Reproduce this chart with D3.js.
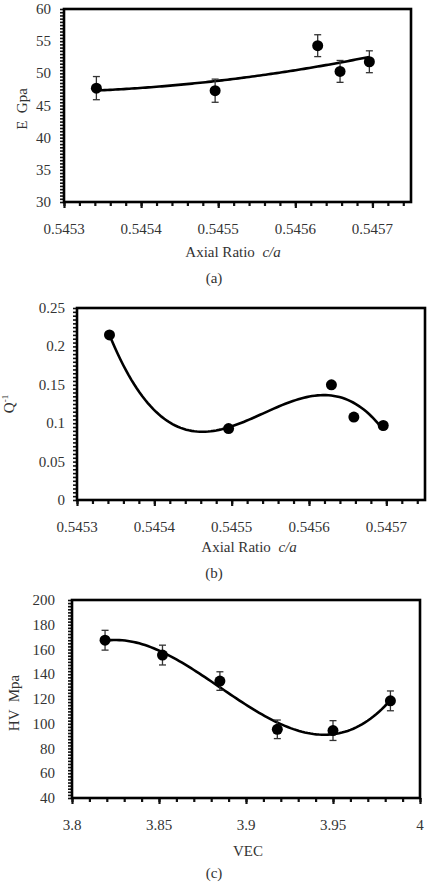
<!DOCTYPE html>
<html>
<head>
<meta charset="utf-8">
<script src="https://cdn.jsdelivr.net/npm/d3@7"></script>
<style>
  body { margin: 0; background: #fff; }
</style>
</head>
<body>
<svg id="fig" width="432" height="882" font-family="'Liberation Serif', 'DejaVu Serif', serif"></svg>
<script>
/* values */
const axialRatio = [0.545342, 0.545496, 0.545629, 0.545658, 0.545696];
const modulusE   = [47.7, 47.3, 54.3, 50.3, 51.8];
const modulusErr = [1.8, 1.8, 1.7, 1.7, 1.7];
const damping    = [0.215, 0.093, 0.150, 0.108, 0.097];
const vec        = [3.819, 3.852, 3.885, 3.918, 3.950, 3.983];
const hardness   = [167.5, 155.5, 134.5, 95.5, 94.5, 118.5];
const hardErr    = [8, 8, 7.5, 7.5, 8, 8];

const ratioTicks = [0.5453, 0.5454, 0.5455, 0.5456, 0.5457];
const eTicks     = [30, 35, 40, 45, 50, 55, 60];
const qTicks     = [0, 0.05, 0.1, 0.15, 0.2, 0.25];
const vecTicks   = [3.8, 3.85, 3.9, 3.95, 4];
const hvTicks    = [40, 60, 80, 100, 120, 140, 160, 180, 200];

const svg = d3.select("#fig");
const textColor = "#333";

/* least squares polynomial fit, x centred to keep it well conditioned */
function polyFit(xs, ys, order) {
	const mx = d3.mean(xs), sx = d3.deviation(xs);
	const t = xs.map(x => (x - mx) / sx);
	const n = order + 1;
	const A = [];
	for (let i = 0; i < n; i++) {
		const row = [];
		for (let j = 0; j < n; j++) row.push(d3.sum(t, v => Math.pow(v, i + j)));
		row.push(d3.sum(t, (v, k) => ys[k] * Math.pow(v, i)));
		A.push(row);
	}
	for (let i = 0; i < n; i++) {
		let p = i;
		for (let r = i + 1; r < n; r++) if (Math.abs(A[r][i]) > Math.abs(A[p][i])) p = r;
		[A[i], A[p]] = [A[p], A[i]];
		for (let r = 0; r < n; r++) {
			if (r === i) continue;
			const f = A[r][i] / A[i][i];
			for (let c = i; c <= n; c++) A[r][c] -= f * A[i][c];
		}
	}
	const coef = A.map((row, i) => row[n] / row[i]);
	return x => {
		const v = (x - mx) / sx;
		return d3.sum(coef, (c, i) => c * Math.pow(v, i));
	};
}

function drawPanel(p) {
	const g = svg.append("g");
	const x = d3.scaleLinear().domain(p.xDomain).range([p.left, p.right]);
	const y = d3.scaleLinear().domain(p.yDomain).range([p.bottom, p.top]);

	// y ticks (minor + major, all the same size)
	g.append("g")
		.attr("transform", `translate(${p.left},0)`)
		.call(d3.axisLeft(y).tickValues(p.yMinor).tickSize(4).tickFormat(""))
		.call(a => a.select(".domain").remove())
		.selectAll("line").attr("stroke", "#111").attr("stroke-width", 1.6);

	g.selectAll(".ylab").data(p.yTicks).join("text")
		.attr("x", p.left - p.yLabGap)
		.attr("y", d => y(d) + 5)
		.attr("text-anchor", "end")
		.attr("font-size", "15px")
		.attr("fill", textColor)
		.text(p.yFormat);

	// x ticks
	g.append("g")
		.attr("transform", `translate(0,${p.bottom})`)
		.call(d3.axisBottom(x).tickValues(p.xMinor).tickSize(4).tickFormat(""))
		.call(a => a.select(".domain").remove())
		.selectAll("line").attr("stroke", "#111").attr("stroke-width", 2.2);
	g.append("g")
		.attr("transform", `translate(0,${p.bottom})`)
		.call(d3.axisBottom(x).tickValues(p.xTicks).tickSize(6).tickFormat(""))
		.call(a => a.select(".domain").remove())
		.selectAll("line").attr("stroke", "#111").attr("stroke-width", 2.2);

	g.selectAll(".xlab").data(p.xTicks).join("text")
		.attr("x", d => x(d))
		.attr("y", p.bottom + 32)
		.attr("text-anchor", "middle")
		.attr("font-size", "15px")
		.attr("fill", textColor)
		.text(p.xFormat);

	// frame
	g.append("rect")
		.attr("x", p.left).attr("y", p.top)
		.attr("width", p.right - p.left).attr("height", p.bottom - p.top)
		.attr("fill", "none").attr("stroke", "#000").attr("stroke-width", 2.6);

	// trend line
	const fit = polyFit(p.xs, p.ys, p.order);
	const xsFit = d3.range(0, 101).map(i => p.xs[0] + (p.xs[p.xs.length - 1] - p.xs[0]) * i / 100);
	g.append("path")
		.datum(xsFit)
		.attr("fill", "none")
		.attr("stroke", "#000")
		.attr("stroke-width", 2.6)
		.attr("d", d3.line().x(d => x(d)).y(d => y(fit(d))));

	// error bars
	if (p.err) {
		const eb = g.selectAll(".err").data(p.xs).join("g");
		eb.append("line")
			.attr("x1", d => x(d)).attr("x2", d => x(d))
			.attr("y1", (d, i) => y(p.ys[i] - p.err[i]))
			.attr("y2", (d, i) => y(p.ys[i] + p.err[i]))
			.attr("stroke", "#333").attr("stroke-width", 1.3);
		[-1, 1].forEach(s => {
			eb.append("line")
				.attr("x1", d => x(d) - 3.5).attr("x2", d => x(d) + 3.5)
				.attr("y1", (d, i) => y(p.ys[i] + s * p.err[i]))
				.attr("y2", (d, i) => y(p.ys[i] + s * p.err[i]))
				.attr("stroke", "#333").attr("stroke-width", 1.3);
		});
	}

	// markers
	g.selectAll(".pt").data(p.xs).join("circle")
		.attr("cx", d => x(d))
		.attr("cy", (d, i) => y(p.ys[i]))
		.attr("r", 5.5)
		.attr("fill", "#000");

	// y title
	const yt = g.append("text")
		.attr("transform", `translate(${p.yTitleX},${p.yTitleY}) rotate(-90)`)
		.attr("text-anchor", "middle")
		.attr("font-size", "15px")
		.attr("fill", textColor)
		.style("white-space", "pre");
	p.yTitle(yt);

	// x title
	const xt = g.append("text")
		.attr("x", p.xTitleX).attr("y", p.xTitleY)
		.attr("text-anchor", "middle")
		.attr("font-size", "15px")
		.attr("fill", textColor)
		.style("white-space", "pre");
	p.xTitle(xt);

	// caption
	g.append("text")
		.attr("x", 214).attr("y", p.capY)
		.attr("text-anchor", "middle")
		.attr("font-size", "15px")
		.attr("fill", textColor)
		.text(p.caption);
}

function axialTitle(t) {
	t.append("tspan").text("Axial Ratio  ");
	t.append("tspan").attr("font-style", "italic").text("c/a");
}

const ratioMinor = d3.range(0, 23).map(i => 0.5453 + i * 0.00002);
const fmtRatio = d => d.toFixed(4);

drawPanel({
	left: 64, right: 411, top: 9, bottom: 202,
	xDomain: [0.5453, 0.54575], yDomain: [30, 60],
	xTicks: ratioTicks, xMinor: ratioMinor, xFormat: fmtRatio,
	yTicks: eTicks, yMinor: d3.range(0, 61).map(i => 30 + i * 0.5), yFormat: d => d, yLabGap: 13,
	xs: axialRatio, ys: modulusE, err: modulusErr, order: 2,
	yTitleX: 27, yTitleY: 109, yTitle: t => t.text("E  Gpa"),
	xTitleX: 233, xTitleY: 257, xTitle: axialTitle,
	capY: 283, caption: "(a)"
});

drawPanel({
	left: 77, right: 425, top: 308, bottom: 500,
	xDomain: [0.5453, 0.54575], yDomain: [0, 0.25],
	xTicks: ratioTicks, xMinor: ratioMinor, xFormat: fmtRatio,
	yTicks: qTicks, yMinor: d3.range(0, 51).map(i => i * 0.005), yFormat: d => d, yLabGap: 12,
	xs: axialRatio, ys: damping, err: null, order: 3,
	yTitleX: 14, yTitleY: 404,
	yTitle: t => {
		t.append("tspan").text("Q");
		t.append("tspan").attr("font-size", "9px").attr("dy", -6).text("-1");
	},
	xTitleX: 249, xTitleY: 552, xTitle: axialTitle,
	capY: 578, caption: "(b)"
});

drawPanel({
	left: 72, right: 420, top: 600, bottom: 798,
	xDomain: [3.8, 4], yDomain: [40, 200],
	xTicks: vecTicks, xMinor: d3.range(0, 21).map(i => 3.8 + i * 0.01), xFormat: d => d,
	yTicks: hvTicks, yMinor: d3.range(0, 65).map(i => 40 + i * 2.5), yFormat: d => d, yLabGap: 17,
	xs: vec, ys: hardness, err: hardErr, order: 3,
	yTitleX: 19, yTitleY: 703, yTitle: t => t.text("HV  Mpa"),
	xTitleX: 248, xTitleY: 856, xTitle: t => t.text("VEC"),
	capY: 878, caption: "(c)"
});
</script>
</body>
</html>
